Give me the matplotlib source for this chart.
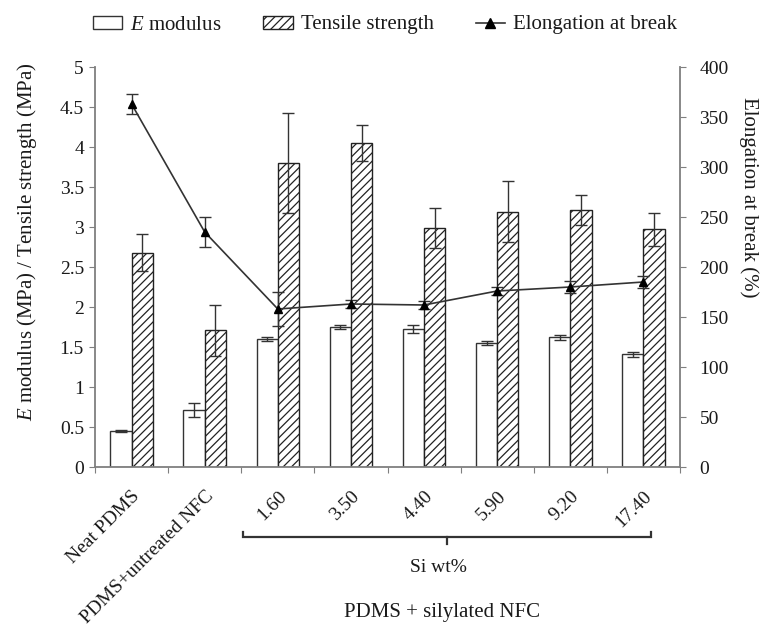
import matplotlib
matplotlib.use("Agg")
import matplotlib.pyplot as plt
import matplotlib.transforms as mtransforms
from matplotlib.patches import Patch
from matplotlib.lines import Line2D
import numpy as np

# Mechanical properties of PDMS composites
categories = ["Neat PDMS", "PDMS+untreated NFC", "1.60", "3.50", "4.40", "5.90", "9.20", "17.40"]
e_modulus = [0.45, 0.71, 1.60, 1.75, 1.73, 1.55, 1.62, 1.41]
e_modulus_err = [0.01, 0.09, 0.03, 0.02, 0.05, 0.02, 0.03, 0.03]
tensile = [2.68, 1.71, 3.80, 4.05, 2.99, 3.19, 3.21, 2.97]
tensile_err = [0.23, 0.32, 0.62, 0.22, 0.25, 0.38, 0.19, 0.21]
elongation = [363, 235, 158, 163, 162, 176, 180, 185]
elongation_err = [10, 15, 17, 4, 4, 4, 6, 6]

left_ticks = [0, 0.5, 1, 1.5, 2, 2.5, 3, 3.5, 4, 4.5, 5]
left_ticklabels = ["0", "0.5", "1", "1.5", "2", "2.5", "3", "3.5", "4", "4.5", "5"]
right_ticks = [0, 50, 100, 150, 200, 250, 300, 350, 400]

plt.rcParams["font.family"] = ["Liberation Serif", "DejaVu Serif"]
plt.rcParams["mathtext.fontset"] = "custom"
plt.rcParams["mathtext.rm"] = "Liberation Serif"
plt.rcParams["mathtext.it"] = "Liberation Serif:italic"
plt.rcParams["hatch.color"] = "#333333"
plt.rcParams["hatch.linewidth"] = 0.9

W, H = 771, 635
fig = plt.figure(figsize=(W / 100, H / 100), dpi=100)
ax = fig.add_axes([95 / W, 1 - 467 / H, (680 - 95) / W, 400 / H])

spine_col = "#7f7f7f"
text_col = "#1a1a1a"
tick_fs = 14
label_fs = 15

x = np.arange(len(categories))
w = 0.29
err_kw = dict(ecolor="#333333", elinewidth=1.0, capsize=4, capthick=1.0)
ax.bar(x - w / 2, e_modulus, w, yerr=e_modulus_err, color="white",
       edgecolor="#333333", linewidth=1.0, error_kw=err_kw, zorder=2)
ax.bar(x + w / 2, tensile, w, yerr=tensile_err, color="white",
       edgecolor="#222222", linewidth=1.0, hatch="////", error_kw=err_kw, zorder=2)

ax.set_xlim(-0.5, len(categories) - 0.5)
ax.set_ylim(0, 5)
ax.set_yticks(left_ticks)
ax.set_yticklabels(left_ticklabels)

# group boundaries carry the tick marks, group centres carry the labels
ax.set_xticks(np.arange(-0.5, len(categories), 1.0))
ax.set_xticklabels([])
ax.set_xticks(x, minor=True)
ax.set_xticklabels(categories, minor=True, rotation=45, ha="right", va="top",
                   rotation_mode="anchor", fontsize=tick_fs, color=text_col)
shift = mtransforms.ScaledTranslation(5 / 100, 0, fig.dpi_scale_trans)
for lab in ax.get_xticklabels(minor=True):
    lab.set_transform(lab.get_transform() + shift)
ax.tick_params(axis="x", which="minor", length=0, pad=15)
ax.tick_params(axis="x", which="major", direction="out", length=4, color=spine_col)
ax.tick_params(axis="y", direction="out", length=4, color=spine_col,
               labelsize=tick_fs, labelcolor=text_col, pad=4)

for s in ["top", "right"]:
    ax.spines[s].set_visible(False)
for s in ["left", "bottom"]:
    ax.spines[s].set_color(spine_col)
    ax.spines[s].set_linewidth(1.3)

ax2 = ax.twinx()
ax2.errorbar(x, elongation, yerr=elongation_err, color="#333333", lw=1.2,
             marker="^", markersize=6, markerfacecolor="black", markeredgecolor="black",
             ecolor="#333333", elinewidth=1.0, capsize=4, capthick=1.0, zorder=3)
ax2.set_ylim(0, 400)
ax2.set_yticks(right_ticks)
ax2.tick_params(axis="y", direction="out", length=4, color=spine_col,
                labelsize=tick_fs, labelcolor=text_col, pad=10)
for s in ["top", "left", "bottom"]:
    ax2.spines[s].set_visible(False)
ax2.spines["right"].set_color(spine_col)
ax2.spines["right"].set_linewidth(1.3)

# axis titles
fig.text(27 / W, 1 - 242 / H, r"$\mathit{E}$ modulus (MPa) / Tensile strength (MPa)",
         rotation=90, ha="center", va="center", fontsize=label_fs, color=text_col)
fig.text(749 / W, 1 - 197 / H, "Elongation at break (%)",
         rotation=270, ha="center", va="center", fontsize=label_fs, color=text_col)

# bracket grouping the silylated samples
bt = mtransforms.blended_transform_factory(ax.transData, ax.transAxes)
yb = -(537 - 467) / 400
yend = -(532 - 467) / 400
ymid = -(544 - 467) / 400
xl, xr = 1.53, 7.1
xm = (xl + xr) / 2
ax.plot([xl, xl, xr, xr], [yend, yb, yb, yend], transform=bt, clip_on=False,
        color="#333333", lw=1.6, solid_joinstyle="miter")
ax.plot([xm, xm], [yb, ymid], transform=bt, clip_on=False, color="#333333", lw=1.6)
fig.text(438 / W, 1 - 568 / H, "Si wt%", ha="center", va="center",
         fontsize=tick_fs, color=text_col)
fig.text(442 / W, 1 - 613 / H, "PDMS + silylated NFC", ha="center", va="center",
         fontsize=label_fs, color=text_col)

handles = [
    Patch(facecolor="white", edgecolor="#333333", linewidth=1.0),
    Patch(facecolor="white", edgecolor="#222222", linewidth=1.0, hatch="////"),
    Line2D([], [], color="#333333", lw=1.2, marker="^", markersize=7,
           markerfacecolor="black", markeredgecolor="black"),
]
labels = [r"$\mathit{E}$ modulus", "Tensile strength", "Elongation at break"]
fig.legend(handles, labels, loc="center", bbox_to_anchor=(385 / W, 1 - 25 / H),
           ncol=3, frameon=False, fontsize=label_fs, handlelength=1.4,
           handleheight=0.6, handletextpad=0.4, columnspacing=2.0,
           labelcolor=text_col)

fig.savefig("out.png", dpi=100)
